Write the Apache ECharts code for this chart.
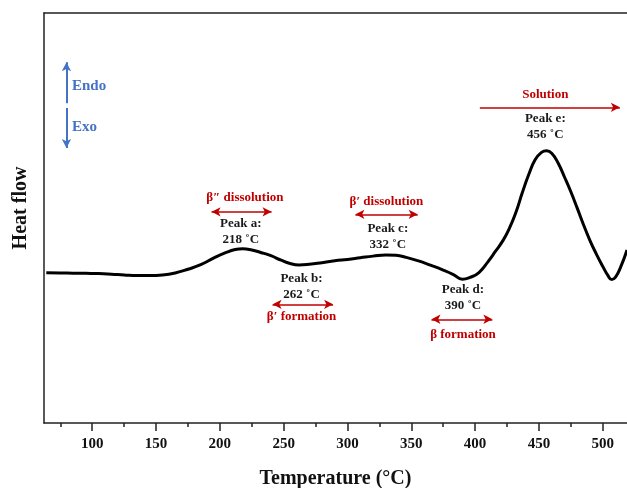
<!DOCTYPE html>
<html>
<head>
<meta charset="utf-8">
<script src="https://cdn.jsdelivr.net/npm/echarts@6/dist/echarts.min.js"></script>
<style>
html,body{margin:0;padding:0;background:#fff;}
#chart{width:627px;height:488px;}
</style>
</head>
<body>
<div id="chart"></div>
<script>
// Curve (DSC trace)
var tempC = [64, 75, 85, 95, 105, 115, 125, 135, 145, 155, 165, 175, 185, 195, 205, 212, 218, 225, 232, 240, 248, 255, 262, 270, 280, 290, 300, 310, 320, 330, 338, 346, 355, 365, 375, 383, 390, 396, 403, 410, 416, 422, 427, 432, 437, 442, 447, 452, 456, 460, 465, 470, 475, 480, 485, 490, 495, 500, 504, 507, 510, 514, 519];
var heatFlow = [36.66, 36.6, 36.55, 36.5, 36.45, 36.3, 36.1, 35.95, 35.95, 36.1, 36.6, 37.5, 38.6, 40.2, 41.6, 42.3, 42.5, 42.2, 41.6, 40.8, 39.7, 38.9, 38.55, 38.7, 39.1, 39.55, 39.9, 40.3, 40.7, 41.0, 40.9, 40.4, 39.6, 38.5, 37.3, 36.2, 35.05, 35.5, 36.7, 39.3, 41.9, 44.6, 47.6, 51.4, 56.2, 60.6, 64.2, 66.0, 66.4, 65.8, 63.4, 60.0, 56.4, 52.4, 48.3, 44.5, 41.2, 38.2, 36.0, 35.0, 35.6, 38.0, 42.2];

// Axis ticks
var majorTicks = [100, 150, 200, 250, 300, 350, 400, 450, 500];
var minorTicks = [75, 125, 175, 225, 275, 325, 375, 425, 475];

// Annotation texts [x, y, text]
var peakLabels = [
  [216.4, 46.7, 'Peak a:\n218 ˚C'],
  [264.0, 33.3, 'Peak b:\n262 ˚C'],
  [331.6, 45.4, 'Peak c:\n332 ˚C'],
  [390.5, 30.5, 'Peak d:\n390 ˚C'],
  [455.0, 72.4, 'Peak e:\n456 ˚C']
];
var phaseLabels = [
  [219.6, 54.9, 'β″ dissolution'],
  [264.0, 25.9, 'β′ formation'],
  [330.5, 54.0, 'β′ dissolution'],
  [390.5, 21.5, 'β formation'],
  [455.0, 80.2, 'Solution']
];
var dirLabels = [
  [84.1, 82.2, 'Endo'],
  [84.1, 72.2, 'Exo']
];
// Arrows [x1, x2, y, both-ends]
var phaseArrows = [
  [193.5, 240.5, 51.5, true],
  [241.3, 288.7, 28.95, true],
  [306.2, 355.0, 50.9, true],
  [365.8, 413.5, 25.3, true],
  [403.7, 513.4, 77.0, false]
];
// Endo / Exo arrows [x, yFrom, yTo]
var dirArrows = [
  [79.8, 78.0, 88.0],
  [79.8, 76.8, 67.1]
];

var FONT = '"Liberation Serif", "Times New Roman", serif';
var RED = '#C00000';
var BLUE = '#4472C4';

var curve = tempC.map(function (t, i) { return [t, heatFlow[i]]; });

var markLines = [];
phaseArrows.forEach(function (a) {
  markLines.push([
    {coord: [a[0], a[2]], symbol: a[3] ? 'arrow' : 'none', lineStyle: {color: RED, width: 1.5, type: 'solid'}},
    {coord: [a[1], a[2]], symbol: 'arrow'}
  ]);
});
dirArrows.forEach(function (a) {
  markLines.push([
    {coord: [a[0], a[1]], symbol: 'none', lineStyle: {color: BLUE, width: 2, type: 'solid'}},
    {coord: [a[0], a[2]], symbol: 'arrow'}
  ]);
});

function textData(arr, color, align, lh) {
  return arr.map(function (d) {
    return {
      value: [d[0], d[1]],
      name: d[2],
      label: {color: color, align: align, lineHeight: lh}
    };
  });
}

var chart = echarts.init(document.getElementById('chart'), null, {renderer: 'canvas'});
chart.setOption({
  animation: false,
  backgroundColor: '#fff',
  grid: {left: 44, top: 13, right: 0, bottom: 65, containLabel: false, outerBoundsMode: 'none'},
  xAxis: [
    {
      type: 'value', min: 62.2, max: 519, position: 'bottom',
      axisLine: {show: true, lineStyle: {color: '#222', width: 1.5}},
      axisTick: {show: true, customValues: majorTicks, length: 8, lineStyle: {color: '#222', width: 1.5}},
      axisLabel: {show: true, customValues: majorTicks, margin: 14, color: '#111', fontFamily: FONT, fontWeight: 'bold', fontSize: 15},
      splitLine: {show: false},
      name: 'Temperature (°C)', nameLocation: 'middle', nameGap: 46,
      nameTextStyle: {color: '#111', fontFamily: FONT, fontWeight: 'bold', fontSize: 20}
    },
    {
      type: 'value', min: 62.2, max: 519, position: 'bottom',
      axisLine: {show: false},
      axisTick: {show: true, customValues: minorTicks, length: 4, lineStyle: {color: '#222', width: 1.5}},
      axisLabel: {show: false},
      splitLine: {show: false}
    },
    {
      type: 'value', min: 62.2, max: 519, position: 'top',
      axisLine: {show: true, lineStyle: {color: '#222', width: 1.5}},
      axisTick: {show: false}, axisLabel: {show: false}, splitLine: {show: false}
    }
  ],
  yAxis: {
    type: 'value', min: 0, max: 100, position: 'left',
    axisLine: {show: true, lineStyle: {color: '#222', width: 1.5}},
    axisTick: {show: false}, axisLabel: {show: false}, splitLine: {show: false},
    name: 'Heat flow', nameLocation: 'middle', nameGap: 13,
    nameTextStyle: {color: '#111', fontFamily: FONT, fontWeight: 'bold', fontSize: 20, padding: [0, 0, 0, 20]}
  },
  series: [
    {
      type: 'line', data: curve, xAxisIndex: 0, yAxisIndex: 0,
      smooth: 0.5, showSymbol: false, symbol: 'none',
      lineStyle: {color: '#000', width: 3},
      markLine: {silent: true, symbolSize: [7, 9], label: {show: false}, data: markLines}
    },
    {
      type: 'scatter', xAxisIndex: 0, yAxisIndex: 0, symbolSize: 0, silent: true,
      itemStyle: {opacity: 1},
      label: {show: true, position: 'inside', formatter: '{b}', fontFamily: FONT, fontWeight: 'bold', fontSize: 13, opacity: 1},
      data: textData(peakLabels, '#1a1a1a', 'center', 16)
        .concat(textData(phaseLabels, RED, 'center', 15))
    },
    {
      type: 'scatter', xAxisIndex: 0, yAxisIndex: 0, symbolSize: 0, silent: true,
      itemStyle: {opacity: 1},
      label: {show: true, position: 'inside', formatter: '{b}', fontFamily: FONT, fontWeight: 'bold', fontSize: 15, opacity: 1},
      data: dirLabels.map(function (d) {
        return {value: [d[0], d[1]], name: d[2], label: {color: BLUE, align: 'left'}};
      })
    }
  ]
});
</script>
</body>
</html>
